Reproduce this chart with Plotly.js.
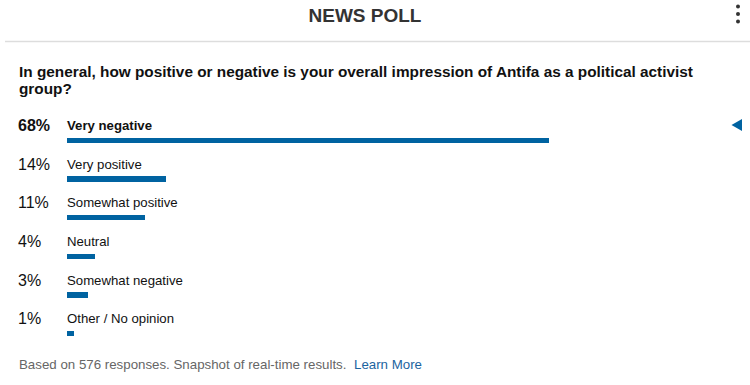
<!DOCTYPE html>
<html>
<head>
<meta charset="utf-8">
<script src="https://cdn.plot.ly/plotly-3.0.1.min.js"></script>
<style>
  html, body { margin: 0; padding: 0; background: #fff; }
  #chart { width: 750px; height: 385px; }
</style>
</head>
<body>
<div id="chart"></div>
<script>
// ---- Data ----
const categories = ["Very negative", "Very positive", "Somewhat positive", "Neutral", "Somewhat negative", "Other / No opinion"];
const values = [68, 14, 11, 4, 3, 1];
const percentLabels = ["68%", "14%", "11%", "4%", "3%", "1%"];
const chartTitle = "NEWS POLL";
const questionLines = ["In general, how positive or negative is your overall impression of Antifa as a political activist", "group?"];
const footerText = "Based on 576 responses. Snapshot of real-time results.";
const linkText = "Learn More";

// ---- Layout geometry (pixels) ----
const W = 750, H = 385;
const M = { l: 67, r: 10, t: 121, b: 32 };
const PW = W - M.l - M.r, PH = H - M.t - M.b;
const px = x => (x - M.l) / PW;          // pixel x -> paper x
const py = y => (H - M.b - y) / PH;      // pixel y -> paper y

const FONT = "Liberation Sans, Arial, Helvetica, sans-serif";
const BLUE = "#0063a1";

const trace = {
  type: "bar",
  orientation: "h",
  y: categories,
  x: values,
  width: 0.145,
  marker: { color: BLUE },
  hoverinfo: "skip"
};

const annotations = [];
categories.forEach((c, i) => {
  const bold = i === 0;
  annotations.push({
    xref: "paper", yref: "y", x: 0, y: c,
    xanchor: "left", yanchor: "middle", xshift: -51, yshift: 15,
    text: bold ? "<b>" + percentLabels[i] + "</b>" : percentLabels[i],
    showarrow: false,
    font: { family: FONT, size: 16, color: "#111" }
  });
  annotations.push({
    xref: "paper", yref: "y", x: 0, y: c,
    xanchor: "left", yanchor: "middle", xshift: -2, yshift: 15,
    text: bold ? "<b>" + c + "</b>" : c,
    showarrow: false,
    font: { family: FONT, size: 13.2, color: "#111" }
  });
});

questionLines.forEach((t, i) => {
  annotations.push({
    xref: "paper", yref: "paper", x: px(17), y: py(71 + i * 17),
    xanchor: "left", yanchor: "middle",
    text: "<b>" + t + "</b>", showarrow: false,
    font: { family: FONT, size: 15.35, color: "#111" }
  });
});

annotations.push({
  xref: "paper", yref: "paper", x: px(17), y: py(364),
  xanchor: "left", yanchor: "middle",
  text: footerText, showarrow: false,
  font: { family: FONT, size: 13.3, color: "#666" }
});
annotations.push({
  xref: "paper", yref: "paper", x: px(352), y: py(364),
  xanchor: "left", yanchor: "middle",
  text: linkText, showarrow: false,
  font: { family: FONT, size: 13.3, color: "#1c64a0" }
});

const shapes = [
  // separator line
  { type: "line", xref: "paper", yref: "paper", x0: px(5), x1: px(750), y0: py(41.5), y1: py(41.5),
    line: { color: "#dddddd", width: 1.5 } },
  // selected-answer arrow
  { type: "path", xref: "paper", yref: "paper",
    path: `M ${px(731.5)} ${py(125)} L ${px(742)} ${py(119)} L ${px(742)} ${py(131)} Z`,
    fillcolor: BLUE, line: { width: 0 } }
];
// kebab menu dots
[6.5, 14, 21.5].forEach(y => {
  shapes.push({ type: "circle", xref: "paper", yref: "paper",
    x0: px(736), x1: px(740), y0: py(y - 2), y1: py(y + 2),
    fillcolor: "#333", line: { width: 0 } });
});

const layout = {
  width: W, height: H,
  margin: M,
  paper_bgcolor: "#fff", plot_bgcolor: "#fff",
  showlegend: false,
  title: {
    text: "<b>" + chartTitle + "</b>",
    x: 365 / W, xanchor: "center", xref: "container",
    y: 1 - 15 / H, yanchor: "middle", yref: "container",
    font: { family: FONT, size: 19, color: "#333" }
  },
  xaxis: { range: [0, 95], visible: false, fixedrange: true },
  yaxis: { type: "category", range: [5.5, -0.5], visible: false, fixedrange: true },
  bargap: 0,
  annotations: annotations,
  shapes: shapes
};

Plotly.newPlot("chart", [trace], layout, { displayModeBar: false, staticPlot: true });
</script>
</body>
</html>
